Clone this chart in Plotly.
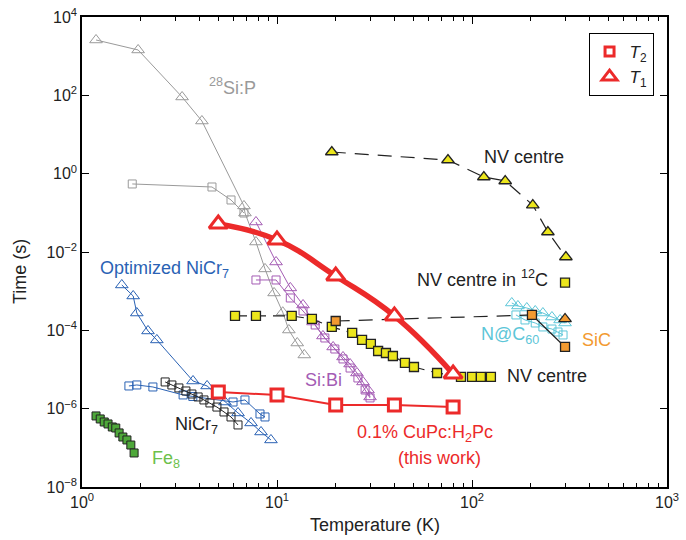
import plotly.graph_objects as go

# ---------------- data (temperature K, time s) ----------------
sip_t1_T = [1.18, 1.94, 3.26, 4.12, 6.77, 6.85, 7.80, 8.68, 9.66, 10.7, 11.5, 12.7, 13.8]
sip_t1_t = [2590, 1440, 90.8, 22.1, 0.150, 0.099, 0.018, 0.0037, 9.0e-4, 2.9e-4, 1.02e-4, 4.75e-5, 2.35e-5]
sip_t2_T = [1.81, 4.64, 5.81, 6.77]
sip_t2_t = [0.546, 0.457, 0.213, 0.099]

sibi_t1_T = [7.80, 9.89, 11.7, 13.6, 15.3, 17.2, 19.4, 21.8, 23.7, 25.7, 27.6, 29.3, 30.0]
sibi_t1_t = [0.0584, 0.00556, 1.21e-3, 4.44e-4, 1.63e-4, 7.18e-5, 3.76e-5, 2.09e-5, 1.38e-5,
             8.15e-6, 4.81e-6, 3.0e-6, 1.99e-6]
sibi_t2_T = [7.80, 9.89, 11.7, 13.6, 15.7, 17.6, 19.8, 21.8, 23.7, 26.0, 28.3, 30.0]
sibi_t2_t = [1.93e-3, 1.93e-3, 6.70e-4, 3.12e-4, 1.37e-4, 6.38e-5, 3.34e-5, 1.86e-5, 1.09e-5,
             6.08e-6, 3.0e-6, 1.88e-6]

nv_t2_T = [6.09, 7.80, 11.9, 15.1, 19.1, 24.3, 27.3, 30.3, 33.0, 36.2, 39.3, 45.3, 50.4, 66.2,
           87.8, 100, 111, 125]
nv_t2_t = [2.33e-4, 2.33e-4, 2.33e-4, 1.95e-4, 1.22e-4, 8.57e-5, 5.68e-5, 4.49e-5, 2.97e-5,
           2.64e-5, 2.21e-5, 1.47e-5, 1.16e-5, 8.15e-6, 6.45e-6, 6.45e-6, 6.45e-6, 6.45e-6]
nv_t1_T = [19.1, 75.3, 115, 148, 205, 245, 303]
nv_t1_t = [3.57, 2.23, 0.822, 0.65, 0.158, 0.0324, 0.00746]
nv12c_T = [300]
nv12c_t = [1.65e-3]

sic_t2_T = [20, 203, 300]
sic_t2_t = [1.73e-4, 2.47e-4, 3.76e-5]
sic_t1_T = [300]
sic_t1_t = [1.95e-4]

nc60_t1_T = [160, 172, 191, 211, 231, 257, 283, 300]
nc60_t1_t = [4.99e-4, 4.19e-4, 3.72e-4, 3.12e-4, 2.77e-4, 2.19e-4, 1.84e-4, 1.54e-4]
nc60_t2_T = [168, 187, 211, 231, 257, 276, 293]
nc60_t2_t = [2.47e-4, 1.84e-4, 1.54e-4, 1.22e-4, 1.08e-4, 9.08e-5, 7.62e-5]

onicr_t1_T = [1.60, 1.83, 1.91, 2.18, 2.42, 3.71, 4.38, 5.41, 6.31, 7.36, 8.28, 9.31]
onicr_t1_t = [1.44e-3, 7.54e-4, 2.77e-4, 9.64e-5, 5.68e-5, 5.09e-6, 3.80e-6, 1.48e-6, 7.77e-7,
              4.32e-7, 2.54e-7, 1.59e-7]
onicr_t2_T = [1.74, 1.91, 2.31, 3.30, 3.70, 5.95, 6.85, 8.18, 8.68]
onicr_t2_t = [3.80e-6, 4.03e-6, 3.58e-6, 2.24e-6, 2.05e-6, 1.48e-6, 1.67e-6, 7.33e-7, 6.14e-7]

nicr_T = [2.67, 2.89, 3.14, 3.41, 3.66, 3.94, 4.22, 4.53, 4.92, 5.35, 5.81, 6.31]
nicr_t = [4.81e-6, 4.03e-6, 3.38e-6, 2.83e-6, 2.37e-6, 1.99e-6, 1.67e-6, 1.40e-6, 1.10e-6,
          8.24e-7, 6.14e-7, 3.84e-7]

fe8_T = [1.18, 1.24, 1.30, 1.36, 1.43, 1.49, 1.55, 1.62, 1.70, 1.78, 1.85]
fe8_t = [6.52e-7, 5.46e-7, 4.57e-7, 4.07e-7, 3.41e-7, 3.21e-7, 2.40e-7, 1.89e-7, 1.59e-7,
         1.18e-7, 7.39e-8]

cupc_T = [5, 10, 20, 40, 80]
cupc_t1 = [0.0519, 0.0203, 2.44e-3, 2.33e-4, 7.69e-6]
cupc_t2 = [2.67e-6, 2.24e-6, 1.24e-6, 1.24e-6, 1.10e-6]

x_tick_exp = [0, 1, 2, 3]
y_tick_exp = [-8, -6, -4, -2, 0, 2, 4]

# ---------------- style ----------------
GRAY = "#9a9a9a"
PURPLE = "#a45cb4"
BLUE = "#2a62b4"
BLACK = "#222222"
GREEN_F = "#4ea83a"
GREEN_T = "#6cbf4a"
YELLOW = "#ece61c"
ORANGE = "#f39a30"
CYAN = "#5cc6d8"
RED = "#ec2a2a"
FONT = "Liberation Sans"

fig = go.Figure()


def series(T, t, color, symbol, size, lw=1.0, mlw=1.0, dash="solid", fill=None,
           mline=None, shape="linear", mode="lines+markers", smoothing=1.0):
    marker = dict(symbol=symbol, size=size, color=fill if fill else color,
                  line=dict(width=mlw, color=mline if mline else color))
    line = dict(color=color, width=lw, dash=dash, shape=shape)
    if shape == "spline":
        line["smoothing"] = smoothing
    fig.add_trace(go.Scatter(x=T, y=t, mode=mode, showlegend=False,
                             line=line, marker=marker, hoverinfo="skip"))


# 28Si:P
series(sip_t2_T, sip_t2_t, GRAY, "square-open", 8)
series(sip_t1_T, sip_t1_t, GRAY, "triangle-up-open", 11)
# Si:Bi
series(sibi_t2_T, sibi_t2_t, PURPLE, "square-open", 8)
series(sibi_t1_T, sibi_t1_t, PURPLE, "triangle-up-open", 11)
# Optimized NiCr7
series(onicr_t2_T, onicr_t2_t, BLUE, "square-open", 8)
series(onicr_t1_T, onicr_t1_t, BLUE, "triangle-up-open", 11)
# NiCr7
series(nicr_T, nicr_t, BLACK, "square-open", 8)
# Fe8
series(fe8_T, fe8_t, BLACK, "square", 8, fill=GREEN_F, mline=BLACK, mlw=1)
# N@C60
series(nc60_t2_T, nc60_t2_t, CYAN, "square-open", 8)
series(nc60_t1_T, nc60_t1_t, CYAN, "triangle-up-open", 11)
# NV centre (T2, lower)
fig.add_trace(go.Scatter(x=nv_t2_T, y=nv_t2_t, mode="lines", showlegend=False,
                         line=dict(color=BLACK, width=1.2, dash="12px,7px"), hoverinfo="skip"))
series(nv_t2_T, nv_t2_t, BLACK, "square", 9, fill=YELLOW, mline=BLACK, mlw=1.3, mode="markers")
# SiC
fig.add_trace(go.Scatter(x=sic_t2_T[:2], y=sic_t2_t[:2], mode="lines", showlegend=False,
                         line=dict(color=BLACK, width=1.2, dash="14px,9px"), hoverinfo="skip"))
fig.add_trace(go.Scatter(x=sic_t2_T[1:], y=sic_t2_t[1:], mode="lines", showlegend=False,
                         line=dict(color=BLACK, width=1.2), hoverinfo="skip"))
series(sic_t2_T, sic_t2_t, BLACK, "square", 9, fill=ORANGE, mline=BLACK, mlw=1.3, mode="markers")
series(sic_t1_T, sic_t1_t, BLACK, "triangle-up", 11, fill=ORANGE, mline=BLACK, mlw=1.3, mode="markers")
# NV centre (T1, upper)
series(nv_t1_T, nv_t1_t, BLACK, "triangle-up", 11, fill=YELLOW, mline=BLACK, mlw=1.3,
       lw=1.2, dash="14px,9px")
# NV centre in 12C
series(nv12c_T, nv12c_t, BLACK, "square", 9, fill=YELLOW, mline=BLACK, mlw=1.3, mode="markers")
# this work
series(cupc_T, cupc_t2, RED, "square", 12, fill="white", mline=RED, mlw=3, lw=2)
series(cupc_T, cupc_t1, RED, "triangle-up", 16, fill="white", mline=RED, mlw=3, lw=5.5,
       shape="spline", smoothing=1.3)

# legend entries
fig.add_trace(go.Scatter(x=[None], y=[None], mode="markers", name="<i>T</i><sub>2</sub>",
                         marker=dict(symbol="square", size=9, color="white",
                                     line=dict(color=RED, width=3))))
fig.add_trace(go.Scatter(x=[None], y=[None], mode="markers", name="<i>T</i><sub>1</sub>",
                         marker=dict(symbol="triangle-up", size=13, color="white",
                                     line=dict(color=RED, width=3))))

# ---------------- labels ----------------
L, R, TOP, BOT = 82, 667, 17, 487


def label(text, px, py, color, size=18):
    fig.add_annotation(text=text, x=(px - L) / (R - L), y=(BOT - py) / (BOT - TOP),
                       xref="paper", yref="paper", showarrow=False,
                       font=dict(color=color, size=size, family=FONT),
                       xanchor="center", yanchor="middle")


label("<sup>28</sup>Si:P", 232, 86, GRAY)
label("Optimized NiCr<sub>7</sub>", 164, 269, BLUE)
label("Si:Bi", 323, 380, PURPLE)
label("NiCr<sub>7</sub>", 196, 425, BLACK)
label("Fe<sub>8</sub>", 166, 459, GREEN_T)
label("0.1% CuPc:H<sub>2</sub>Pc", 425, 433, RED)
label("(this work)", 439, 458, RED)
label("NV centre", 524, 157, BLACK)
label("NV centre in <sup>12</sup>C", 482, 278, BLACK)
label("N@C<sub>60</sub>", 510, 335, CYAN)
label("SiC", 596, 340, ORANGE)
label("NV centre", 547, 376, BLACK)

# axis titles as paper annotations
fig.add_annotation(text="Temperature (K)", x=0.5, y=(BOT - 525) / (BOT - TOP), xref="paper",
                   yref="paper", showarrow=False, xanchor="center", yanchor="middle",
                   font=dict(family=FONT, size=18, color="#222"))
fig.add_annotation(text="Time (s)", x=(20 - L) / (R - L), y=(BOT - 272) / (BOT - TOP),
                   xref="paper", yref="paper", showarrow=False, textangle=-90,
                   xanchor="center", yanchor="middle",
                   font=dict(family=FONT, size=18, color="#222"))

# ---------------- axes ----------------
x_minor = [m * 10 ** e for e in range(0, 3) for m in range(2, 10)]

fig.update_xaxes(type="log", range=[0, 3], showgrid=False, zeroline=False, automargin=False,
                 showline=True, linecolor="black", linewidth=1.5, mirror="ticks",
                 ticks="inside", ticklen=7, tickwidth=1.2, tickcolor="black",
                 tickmode="array", tickvals=[10 ** e for e in x_tick_exp],
                 ticktext=["10<sup>%d</sup>" % e for e in x_tick_exp],
                 tickfont=dict(family=FONT, size=16, color="#222"),
                 minor=dict(tickmode="array", tickvals=x_minor, ticks="inside", ticklen=4,
                            tickwidth=1, tickcolor="black", showgrid=False))
fig.update_yaxes(type="log", range=[-8, 4], showgrid=False, zeroline=False, automargin=False,
                 showline=True, linecolor="black", linewidth=1.5, mirror="ticks",
                 ticks="inside", ticklen=7, tickwidth=1.2, tickcolor="black",
                 tickmode="array", tickvals=[10.0 ** e for e in y_tick_exp],
                 ticktext=["10<sup>%s</sup>" % (str(e).replace("-", "\u2212")) for e in y_tick_exp],
                 tickfont=dict(family=FONT, size=16, color="#222"))

fig.update_layout(
    width=686, height=540, autosize=False,
    margin=dict(l=L, r=686 - R, t=TOP, b=540 - BOT),
    paper_bgcolor="white", plot_bgcolor="white",
    font=dict(family=FONT, color="#222"),
    legend=dict(x=0.977, y=0.966, xanchor="right", yanchor="top",
                bordercolor="black", borderwidth=1, bgcolor="white",
                font=dict(family=FONT, size=17, color="#222"),
                itemwidth=30, tracegroupgap=0),
)

fig.write_html("out.html")
